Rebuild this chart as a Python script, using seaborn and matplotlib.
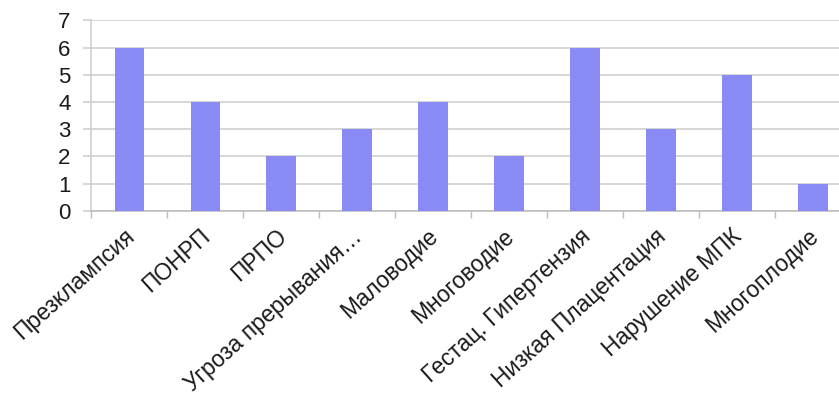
import matplotlib
matplotlib.use("Agg")
import matplotlib.pyplot as plt
import matplotlib.transforms as mtransforms
import seaborn as sns
import pandas as pd

categories = ["Презклампсия", "ПОНРП", "ПРПО", "Угроза прерывания…", "Маловодие",
              "Многоводие", "Гестац. Гипертензия", "Низкая Плацентация",
              "Нарушение МПК", "Многоплодие"]
values = [6, 4, 2, 3, 4, 2, 6, 3, 5, 1]
y_ticks = [0, 1, 2, 3, 4, 5, 6, 7]

sns.set_theme(style="white")
plt.rcParams["font.family"] = ["Liberation Sans", "DejaVu Sans"]

df = pd.DataFrame({"category": categories, "value": values})

fig = plt.figure(figsize=(8.39, 3.98), dpi=100)
ax = fig.add_axes([0.109, 0.470, 0.905, 0.479])

sns.barplot(data=df, x="category", y="value", color="#8A8AF5", saturation=1,
            width=0.39, linewidth=0, ax=ax, zorder=3)

ax.set_ylim(0, 7)
ax.set_yticks(y_ticks)
ax.set_xlim(-0.5, len(categories) - 0.5)
ax.yaxis.grid(True, color="#d6d6d6", linewidth=1.4, zorder=0)
ax.set_axisbelow(True)

ax.set_xlabel("")
ax.set_ylabel("")

for side in ["top", "right"]:
    ax.spines[side].set_visible(False)
ax.spines["left"].set_color("#d0d0d0")
ax.spines["bottom"].set_color("#bdbdbd")
ax.spines["left"].set_linewidth(1.2)
ax.spines["bottom"].set_linewidth(1.2)

ax.tick_params(axis="y", labelsize=16, length=6, color="#d0d0d0", pad=9,
               labelcolor="#1a1a1a", left=True)
ax.tick_params(axis="x", which="major", length=0, pad=10, labelsize=16.5,
               labelcolor="#1a1a1a")

# category boundary ticks along the bottom axis
ax.set_xticks([i + 0.5 for i in range(-1, len(categories))], minor=True)
ax.tick_params(axis="x", which="minor", length=5, color="#bdbdbd", bottom=True)

shift = mtransforms.ScaledTranslation(-4 / 72, 0, fig.dpi_scale_trans)
for lbl in ax.get_xticklabels():
    lbl.set_rotation(42)
    lbl.set_ha("right")
    lbl.set_va("top")
    lbl.set_rotation_mode("anchor")
    lbl.set_transform(lbl.get_transform() + shift)

fig.savefig("out.png", dpi=100)
